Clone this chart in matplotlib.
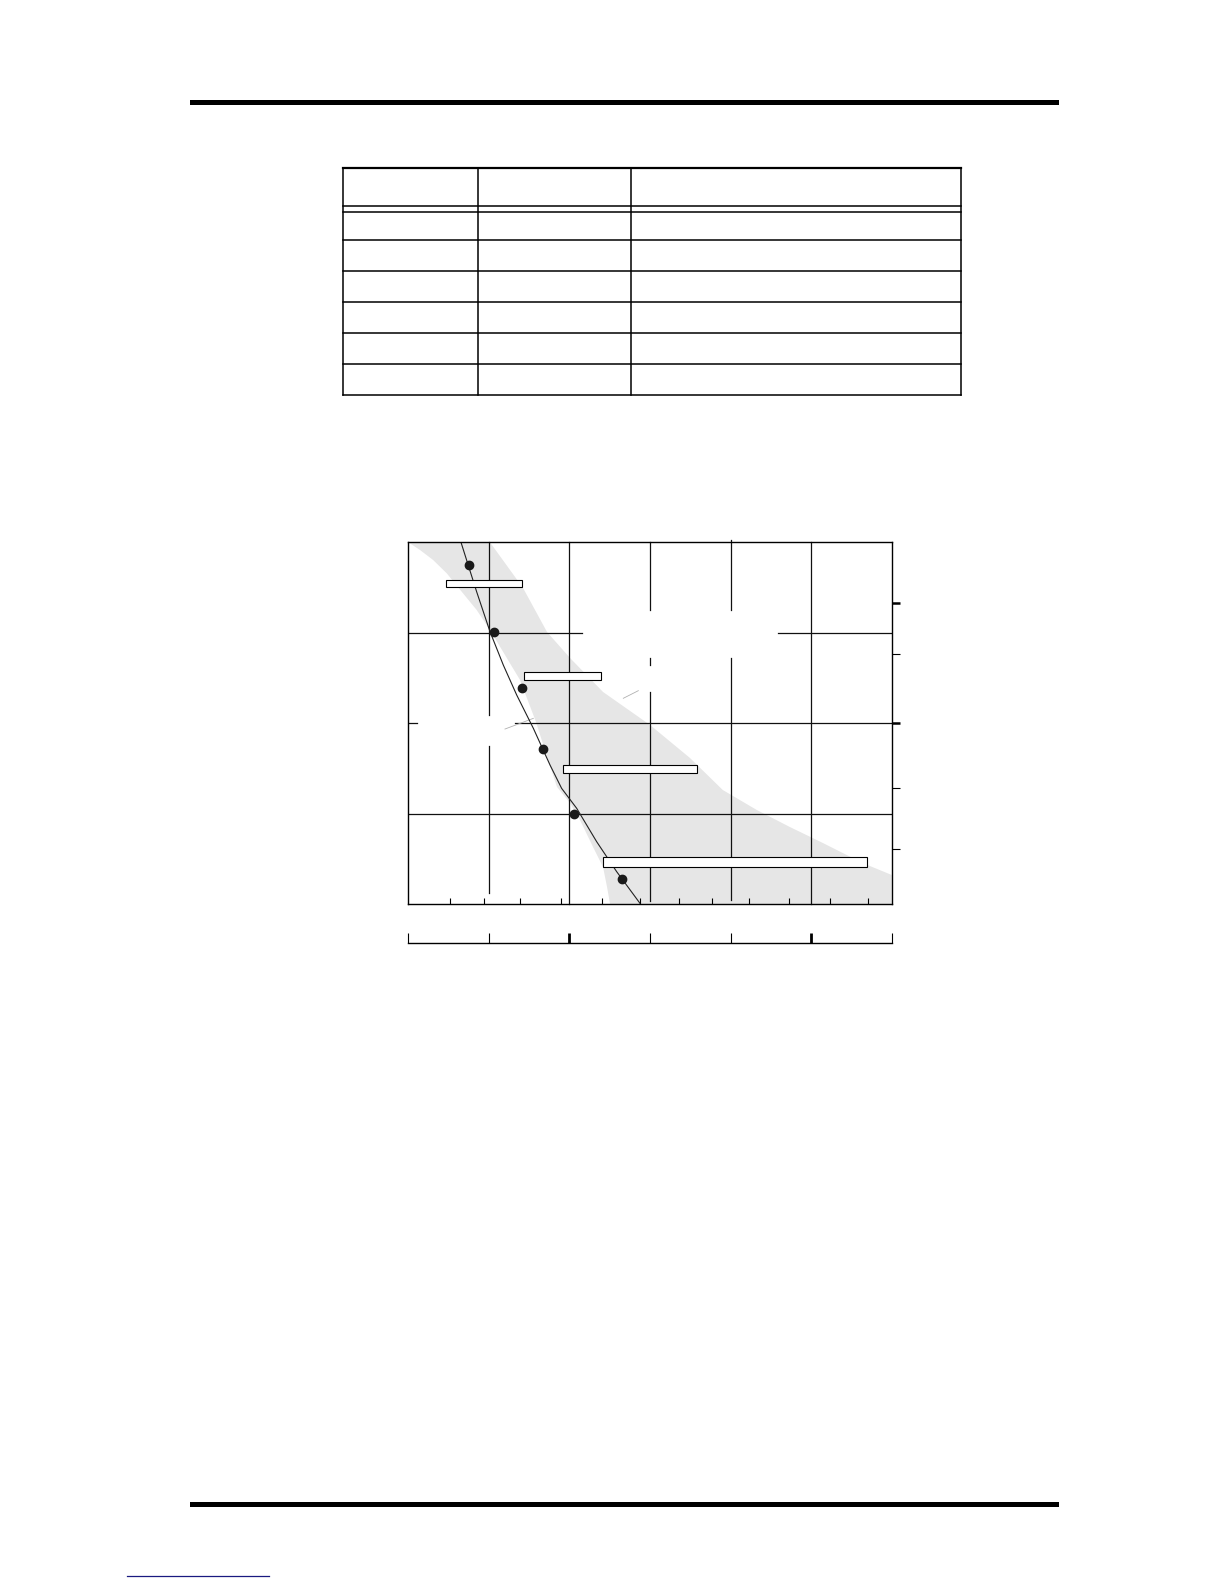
import matplotlib
matplotlib.use("Agg")
import matplotlib.pyplot as plt
from matplotlib.patches import Rectangle

# page size in pixels (dpi 100)
W, H = 1224, 1584

# --- chart data (axes units: x 0..6, y 0..4) ---
curve_x = [0.654, 0.848, 1.014, 1.179, 1.345, 1.552, 1.759, 1.903, 2.09, 2.338, 2.586, 2.876]
curve_y = [4.0, 3.454, 3.012, 2.643, 2.312, 1.943, 1.537, 1.279, 1.058, 0.689, 0.358, 0.007]

point_x = [0.757, 1.062, 1.415, 1.674, 2.055, 2.647]
point_y = [3.751, 3.004, 2.387, 1.711, 0.995, 0.276]

# band outline: left edge going down, then right edge going up
band_x = [0.0, 0.145, 0.307, 0.477, 0.679, 0.849, 1.014, 1.200, 1.387, 1.585, 1.734, 1.846,
          2.007, 2.131, 2.293, 2.417, 2.467, 2.504,
          6.0, 6.0, 5.64, 5.145, 4.735, 4.325, 3.903, 3.496, 3.0, 2.417, 2.007, 1.722, 1.424, 1.014]
band_y = [4.0, 3.915, 3.805, 3.657, 3.436, 3.251, 3.030, 2.754, 2.477, 2.013, 1.593, 1.294,
          1.117, 0.929, 0.630, 0.409, 0.188, 0.0,
          0.0, 0.321, 0.453, 0.675, 0.852, 1.040, 1.261, 1.615, 1.980, 2.345, 2.721, 3.008, 3.495, 4.0]

bar_left = [0.472, 1.440, 1.924, 2.413]
bar_right = [1.415, 2.396, 3.588, 5.698]
bar_y = [3.541, 2.518, 1.490, 0.463]
bar_h = [0.078, 0.089, 0.089, 0.114]

# gridline pieces (gaps where labels sat)
hgrid = [(3, 0, 2.153), (3, 4.59, 6.0), (2, 0, 0.112), (2, 1.325, 6.0), (1, 0, 6.0)]
vgrid = [(1, 2.09, 4.0), (1, 0.118, 1.747), (2, 0, 4.0),
         (3, 3.25, 4.0), (3, 2.64, 2.72), (3, 0.03, 2.35),
         (4, 3.25, 4.025), (4, 0.04, 2.725), (5, 0, 4.0)]
leaders = [([1.2, 1.552], [1.935, 2.053]), ([2.669, 2.855], [2.275, 2.359])]

bottom_minor = [0.52, 0.94, 1.39, 1.89, 2.41, 2.88, 3.36, 3.77, 4.23, 4.73, 5.24, 5.70]
right_major = [3.333, 2.005]
right_minor = [2.761, 1.279, 0.608]
lower_thin = [0, 1, 3, 4, 6]
lower_thick = [2, 5]

# --- page table (pixels) ---
table_rows = [167.7, 206.3, 212, 240, 271, 302.3, 333, 364, 395.3]
table_cols = [343.3, 478.3, 631.3, 960.7]

fig = plt.figure(figsize=(W / 100, H / 100), dpi=100)

page = fig.add_axes([0, 0, 1, 1])
page.set_xlim(0, W)
page.set_ylim(H, 0)
page.axis("off")

# heavy rules top and bottom
page.add_patch(Rectangle((190, 100), 869, 5, color="black", lw=0))
page.add_patch(Rectangle((190, 1502), 869, 5, color="black", lw=0))
page.plot([126.7, 269], [1575.5, 1575.5], color="#1a1a80", lw=0.9)

for i, r in enumerate(table_rows):
    page.plot([table_cols[0], table_cols[-1]], [r, r], color="black",
              lw=1.6 if i == 0 else 1.1, solid_capstyle="projecting")
for c in table_cols:
    page.plot([c, c], [table_rows[0], table_rows[-1]], color="black", lw=1.1)

# --- chart ---
L, R, T, B = 408.3, 891.7, 542.3, 904.0
ax = fig.add_axes([L / W, 1 - B / H, (R - L) / W, (B - T) / H])
ax.set_xlim(0, 6)
ax.set_ylim(0, 4)

ax.fill(band_x, band_y, color="#e6e6e6", lw=0, zorder=1)

for y, x0, x1 in hgrid:
    ax.plot([x0, x1], [y, y], color="#111111", lw=0.9, zorder=2)
for x, y0, y1 in vgrid:
    ax.plot([x, x], [y0, y1], color="#111111", lw=0.9, zorder=2, clip_on=False)
for lx, ly in leaders:
    ax.plot(lx, ly, color="#b0b0b0", lw=0.6, zorder=2)

ax.plot(curve_x, curve_y, color="#222222", lw=0.8, zorder=3)

widths = [r - l for l, r in zip(bar_left, bar_right)]
ax.barh(bar_y, widths, height=bar_h, left=bar_left, color="white",
        edgecolor="black", linewidth=0.8, zorder=4)

ax.plot(point_x, point_y, "o", color="#1a1a1a", markersize=6, zorder=5)

for s in ax.spines.values():
    s.set_linewidth(1.0)
    s.set_zorder(6)

ax.set_xticks([])
ax.set_xticks(bottom_minor, minor=True)
ax.tick_params(axis="x", which="minor", direction="in", length=4.5, width=0.8,
               labelbottom=False)
ax.yaxis.tick_right()
ax.set_yticks(right_major)
ax.set_yticks(right_minor, minor=True)
ax.tick_params(axis="y", which="both", direction="out", length=6,
               labelright=False, labelleft=False)
ax.tick_params(axis="y", which="major", width=1.8)
ax.tick_params(axis="y", which="minor", width=0.8)

# lower scale line
yb = 943.3
ax2 = fig.add_axes([L / W, 1 - yb / H, (R - L) / W, 20 / H])
ax2.set_xlim(0, 6)
ax2.patch.set_alpha(0)
for k in ["top", "left", "right"]:
    ax2.spines[k].set_visible(False)
ax2.spines["bottom"].set_linewidth(1.0)
ax2.set_yticks([])
ax2.set_xticks(lower_thin)
ax2.set_xticks(lower_thick, minor=True)
ax2.tick_params(axis="x", which="both", direction="in", length=7, labelbottom=False)
ax2.tick_params(axis="x", which="major", width=0.8)
ax2.tick_params(axis="x", which="minor", width=2.0)

fig.savefig("out.png", dpi=100)
